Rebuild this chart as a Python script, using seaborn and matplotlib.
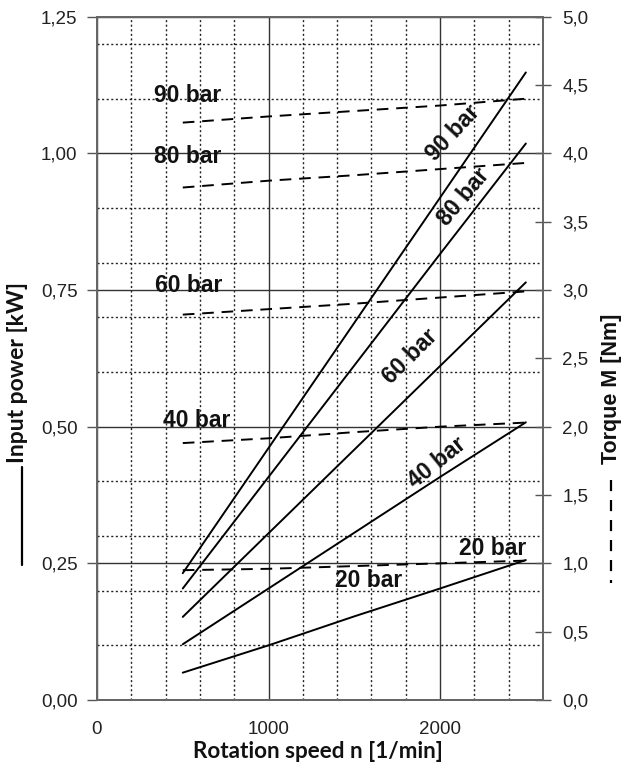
import matplotlib
matplotlib.use("Agg")
import matplotlib.pyplot as plt
import seaborn as sns
import pandas as pd
from matplotlib.lines import Line2D
from matplotlib.ticker import MultipleLocator

# ---------------- data ----------------
pressures = ["20 bar", "40 bar", "60 bar", "80 bar", "90 bar"]
speed = [500, 1000, 1500, 2000, 2500]

power_20 = [0.050, 0.100, 0.153, 0.204, 0.256]
power_40 = [0.102, 0.204, 0.306, 0.408, 0.508]
power_60 = [0.152, 0.305, 0.458, 0.611, 0.764]
power_80 = [0.204, 0.408, 0.612, 0.816, 1.018]
power_90 = [0.232, 0.461, 0.690, 0.919, 1.148]

torque_20 = [0.95, 0.96, 0.98, 1.00, 1.02]
torque_40 = [1.88, 1.915, 1.96, 2.00, 2.03]
torque_60 = [2.82, 2.86, 2.90, 2.945, 2.99]
torque_80 = [3.75, 3.80, 3.84, 3.885, 3.93]
torque_90 = [4.225, 4.27, 4.31, 4.35, 4.40]

x_ticks = [0, 1000, 2000]
x_tick_labels = ["0", "1000", "2000"]
power_ticks = [0.0, 0.25, 0.50, 0.75, 1.00, 1.25]
power_tick_labels = ["0,00", "0,25", "0,50", "0,75", "1,00", "1,25"]
torque_ticks = [0.0, 0.5, 1.0, 1.5, 2.0, 2.5, 3.0, 3.5, 4.0, 4.5, 5.0]
torque_tick_labels = ["0,0", "0,5", "1,0", "1,5", "2,0", "2,5", "3,0", "3,5", "4,0", "4,5", "5,0"]

power_series = [power_20, power_40, power_60, power_80, power_90]
torque_series = [torque_20, torque_40, torque_60, torque_80, torque_90]

power_df = pd.DataFrame({
    "speed": speed * len(pressures),
    "power": [v for s in power_series for v in s],
    "pressure": [p for p in pressures for _ in speed],
})
torque_df = pd.DataFrame({
    "speed": speed * len(pressures),
    "torque": [v for s in torque_series for v in s],
    "pressure": [p for p in pressures for _ in speed],
})

# ---------------- style ----------------
sns.set_style("white")
plt.rcParams['font.family'] = ['Liberation Sans', 'DejaVu Sans']

fig = plt.figure(figsize=(6.22, 7.78), dpi=100)
W, H = 622.0, 778.0
ax = fig.add_axes([97 / W, 1 - 700 / H, (543 - 97) / W, (700 - 16.7) / H])
ax2 = ax.twinx()

sns.lineplot(data=power_df, x="speed", y="power", units="pressure",
             estimator=None, color="black", lw=1.4, ax=ax, zorder=3)
sns.lineplot(data=torque_df, x="speed", y="torque", units="pressure",
             estimator=None, color="black", lw=1.4, ax=ax2,
             linestyle=(0, (6, 4)), zorder=3)

ax.set_xlim(0, 2600)
ax.set_ylim(0, 1.25)
ax2.set_ylim(0, 5.0)

ax.set_xticks(x_ticks)
ax.set_xticklabels(x_tick_labels)
ax.set_yticks(power_ticks)
ax.set_yticklabels(power_tick_labels)
ax2.set_yticks(torque_ticks)
ax2.set_yticklabels(torque_tick_labels)
ax.xaxis.set_minor_locator(MultipleLocator(200))
ax.yaxis.set_minor_locator(MultipleLocator(0.1))

ax.grid(which="major", color="#333333", lw=1.0, ls="-", zorder=0)
ax.grid(which="minor", color="#222222", lw=1.0, ls=(0, (1.5, 1.8)), zorder=0)
ax2.grid(False)
ax.set_axisbelow(True)

ax.set_xlabel("")
ax.set_ylabel("")
ax2.set_ylabel("")

tick_col = "#555555"
ax.tick_params(axis="y", which="major", direction="out", length=7, width=1,
               color=tick_col, labelsize=13.5, pad=7, labelcolor="#222222")
ax.tick_params(axis="x", which="major", direction="out", length=5, width=1,
               color=tick_col, labelsize=13.5, pad=10, labelcolor="#222222")
ax.tick_params(axis="both", which="minor", length=0)
ax2.tick_params(axis="y", which="major", direction="inout", length=12, width=1,
                color=tick_col, labelsize=13.5, pad=8, labelcolor="#222222")
ax2.tick_params(axis="y", which="minor", length=0)

for a in (ax, ax2):
    for sp in a.spines.values():
        sp.set_color("#666666")
        sp.set_linewidth(1.3)
        sp.set_visible(True)

# ---------------- annotations ----------------
lab_kw = dict(fontsize=16.5, fontweight="bold", color="#111111", zorder=5)
ax.text(332, 1.105, "90 bar", ha="left", va="center", **lab_kw)
ax.text(332, 0.994, "80 bar", ha="left", va="center", **lab_kw)
ax.text(338, 0.758, "60 bar", ha="left", va="center", **lab_kw)
ax.text(387, 0.512, "40 bar", ha="left", va="center", **lab_kw)
ax.text(2111, 0.278, "20 bar", ha="left", va="center", **lab_kw)
ax.text(1388, 0.2195, "20 bar", ha="left", va="center", **lab_kw)

ax.text(2076, 1.037, "90 bar", ha="center", va="center", rotation=47, **lab_kw)
ax.text(2140, 0.920, "80 bar", ha="center", va="center", rotation=50, **lab_kw)
ax.text(1825, 0.6275, "60 bar", ha="center", va="center", rotation=45, **lab_kw)
ax.text(1983, 0.4336, "40 bar", ha="center", va="center", rotation=39, **lab_kw)

# axis titles with line-style keys
fig.text(18 / W, 1 - 372.5 / H, "Input power [kW]", rotation=90, ha="center",
         va="center", family=["Lato", "DejaVu Sans"], fontweight="bold",
         fontsize=16.5, color="#111111")
fig.add_artist(Line2D([21.7 / W, 21.7 / W], [1 - 467 / H, 1 - 565 / H],
                      color="black", lw=1.6))
fig.text(611.7 / W, 1 - 389 / H, "Torque M [Nm]", rotation=90, ha="center",
         va="center", fontweight="bold", fontsize=15.5, color="#111111")
fig.add_artist(Line2D([610.7 / W, 610.7 / W], [1 - 480 / H, 1 - 583 / H],
                      color="black", lw=1.6, ls=(0, (5, 4))))
fig.text(318 / W, 1 - 751.7 / H, "Rotation speed n [1/min]", ha="center",
         va="center", family=["Lato", "DejaVu Sans"], fontweight="bold",
         fontsize=16.2, color="#111111")

fig.savefig("out.png", dpi=100)
